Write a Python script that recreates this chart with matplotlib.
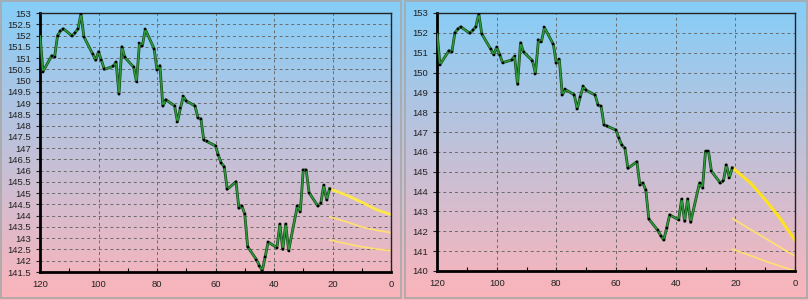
import numpy as np
import matplotlib
matplotlib.use('Agg')
import matplotlib.pyplot as plt
import matplotlib.patheffects as pe
from matplotlib.patches import Rectangle

plt.rcParams['font.family'] = ['Liberation Sans', 'DejaVu Sans']

# 历史价格 (x 轴为距今天数)
days = [120, 119, 116, 115, 114, 113, 112, 109, 108, 107, 106, 105,
        102, 101, 100, 99, 98, 95, 94, 93, 92, 91, 88, 87, 86, 85, 84,
        81, 80, 79, 78, 77, 74, 73, 72, 71, 70, 67, 66, 65, 64, 63,
        60, 59, 58, 57, 56, 53, 52, 51, 50, 49, 46, 45, 44, 43, 42,
        39, 38, 37, 36, 35, 32, 31, 30, 29, 28, 25, 24, 23, 22, 21]
price = [152.05, 150.4, 151.1, 151.05, 152.0, 152.2, 152.3, 151.98, 152.13, 152.3, 152.96, 151.95,
         151.18, 150.9, 151.28, 150.9, 150.5, 150.63, 150.82, 149.4, 151.5, 151.03, 150.6, 149.95, 151.65, 151.55, 152.27,
         151.42, 150.47, 150.66, 148.87, 149.15, 148.88, 148.17, 148.77, 149.3, 149.1, 148.87, 148.35, 148.3, 147.36, 147.3,
         147.1, 146.68, 146.33, 146.18, 145.17, 145.51, 144.33, 144.44, 144.07, 142.62, 142.05, 141.78, 141.56, 142.18, 142.83,
         142.58, 143.62, 142.5, 143.63, 142.45, 144.44, 144.18, 146.03, 146.03, 145.02, 144.43, 144.55, 145.35, 144.7, 145.2]

# 预测线
fc_days = [21, 15, 10, 5, 0]
left_upper = [145.2, 144.9, 144.6, 144.27, 144.05]
left_mid = [143.95, 143.72, 143.5, 143.35, 143.25]
left_low = [142.92, 142.75, 142.62, 142.52, 142.45]
right_upper = [145.2, 144.45, 143.6, 142.65, 141.55]
right_mid = [142.65, 142.1, 141.65, 141.2, 140.75]
right_low = [141.1, 140.78, 140.5, 140.25, 140.0]

left_yticks = np.arange(141.5, 153.01, 0.5)
right_yticks = np.arange(140, 153.01, 1)
xticks = [120, 100, 80, 60, 40, 20, 0]

W, H = 808, 300
fig = plt.figure(figsize=(W / 100, H / 100), dpi=100)

# 渐变背景
bg = fig.add_axes([0, 0, 1, 1])
top = np.array([133, 206, 248]) / 255
bot = np.array([252, 180, 186]) / 255
t = np.linspace(0, 1, 300)[:, None]
grad = top[None, :] * (1 - t) + bot[None, :] * t
bg.imshow(np.repeat(grad[:, None, :], 2, axis=1), aspect='auto', extent=[0, 1, 0, 1])
bg.set_xlim(0, 1)
bg.set_ylim(0, 1)
bg.axis('off')
for x0, x1 in [(0, 402), (404, 808)]:
    bg.add_patch(Rectangle((x0 / W + 0.0008, 2 / H), (x1 - x0) / W - 0.002, 1 - 3 / H,
                           fill=False, edgecolor='#a8a8a8', lw=1.2))


def panel(rect, yticks, ylim, fcs):
    ax = fig.add_axes(rect)
    ax.set_facecolor('none')
    ax.set_xlim(120, 0)
    ax.set_ylim(*ylim)
    ax.set_yticks(yticks)
    ax.set_yticklabels(['%g' % v for v in yticks])
    ax.set_xticks(xticks)
    ax.set_xticks(range(110, 0, -20), minor=True)
    ax.tick_params(labelsize=6.8, colors='#222222', length=3, width=0.8)
    ax.tick_params(axis='x', which='major', direction='in', length=3, pad=6)
    ax.tick_params(axis='x', which='minor', direction='in', length=3, width=0.8)
    ax.grid(True, which='major', color='#6a6a6a', ls=(0, (3, 3)), lw=0.7)
    for s in ['top', 'right']:
        ax.spines[s].set_linewidth(1.0)
        ax.spines[s].set_color('#222222')
    for s in ['left', 'bottom']:
        ax.spines[s].set_linewidth(2.0)
        ax.spines[s].set_color('black')
    ax.plot(days, price, color='#2f9a3c', lw=1.1,
            path_effects=[pe.Stroke(linewidth=2.0, foreground='#14451a'), pe.Normal()],
            zorder=3)
    ax.plot(days, price, ls='none', marker='s', ms=1.6, mfc='black', mec='black',
            mew=0.3, zorder=4)
    for vals, lw, col in fcs:
        ax.plot(fc_days, vals, color=col, lw=lw, zorder=2, solid_capstyle='round')
    return ax


panel([40 / W, 28 / H, 351 / W, 259 / H], left_yticks, (141.5, 153),
      [(left_upper, 2.0, '#ffe94a'), (left_mid, 1.2, '#ffe070'), (left_low, 1.2, '#ffe070')])
panel([437 / W, 29 / H, 358 / W, 258 / H], right_yticks, (140, 153),
      [(right_upper, 2.2, '#ffe21f'), (right_mid, 1.2, '#ffe070'), (right_low, 1.2, '#ffe070')])

fig.savefig('out.png', dpi=100)
